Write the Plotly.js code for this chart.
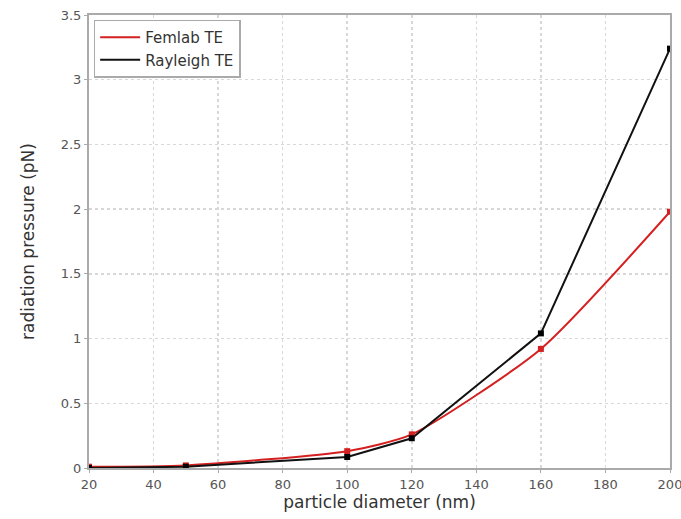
<!DOCTYPE html>
<html><head><meta charset="utf-8">
<script src="https://cdn.plot.ly/plotly-3.0.1.min.js"></script>
<style>html,body{margin:0;padding:0;background:#fff}</style>
</head><body>
<div id="chart" style="width:681px;height:519px"></div>
<script>
const diameters = [20, 50, 100, 120, 160, 200];
const femlabTE = [0.01, 0.02, 0.13, 0.26, 0.92, 1.98];
const rayleighTE = [0.0, 0.01, 0.085, 0.23, 1.04, 3.24];
const xTicks = [20, 40, 60, 80, 100, 120, 140, 160, 180, 200];
const yTicks = [0, 0.5, 1, 1.5, 2, 2.5, 3, 3.5];

const RED = '#d42020';
const BLACK = '#111111';
const FONT = 'DejaVu Sans, Verdana, sans-serif';

const traces = [
  {x: diameters, y: femlabTE, name: 'Femlab TE', mode: 'lines',
   line: {color: RED, width: 2, shape: 'spline', smoothing: 0.6}},
  {x: diameters, y: rayleighTE, name: 'Rayleigh TE', mode: 'lines',
   line: {color: BLACK, width: 2}},
  {x: diameters, y: femlabTE, mode: 'markers', showlegend: false,
   marker: {symbol: 'square', size: 6, color: RED}},
  {x: diameters, y: rayleighTE, mode: 'markers', showlegend: false,
   marker: {symbol: 'square', size: 6, color: '#000000'}}
];

const axisCommon = {
  showline: true, linecolor: '#aaaaaa', linewidth: 2, mirror: true,
  ticks: 'outside', ticklen: 3, tickcolor: '#aaaaaa',
  showgrid: true, gridcolor: '#d8d8d8', griddash: 'dot', gridwidth: 1.5,
  zeroline: false, automargin: false, ticklabeloverflow: 'allow',
  tickfont: {family: FONT, size: 13, color: '#555555'}
};

const layout = {
  width: 681, height: 519,
  margin: {l: 89, r: 11, t: 15, b: 51},
  paper_bgcolor: '#ffffff', plot_bgcolor: '#ffffff',
  showlegend: true,
  legend: {x: 0.008, y: 0.99, xanchor: 'left', yanchor: 'top',
    bgcolor: '#ffffff', bordercolor: '#aaaaaa', borderwidth: 1.5,
    font: {family: FONT, size: 15, color: '#333333'},
    itemwidth: 40, tracegroupgap: 0},
  xaxis: Object.assign({}, axisCommon, {
    range: [20, 200], tickvals: xTicks, ticktext: xTicks.map(String),
    title: {text: 'particle diameter (nm)', standoff: 4,
      font: {family: FONT, size: 17, color: '#333333'}}
  }),
  yaxis: Object.assign({}, axisCommon, {
    range: [0, 3.5], tickvals: yTicks, ticktext: yTicks.map(String),
    title: {text: 'radiation pressure (pN)', standoff: 22,
      font: {family: FONT, size: 17, color: '#333333'}}
  })
};

Plotly.newPlot('chart', traces, layout, {displayModeBar: false, staticPlot: true});
</script>
</body></html>
